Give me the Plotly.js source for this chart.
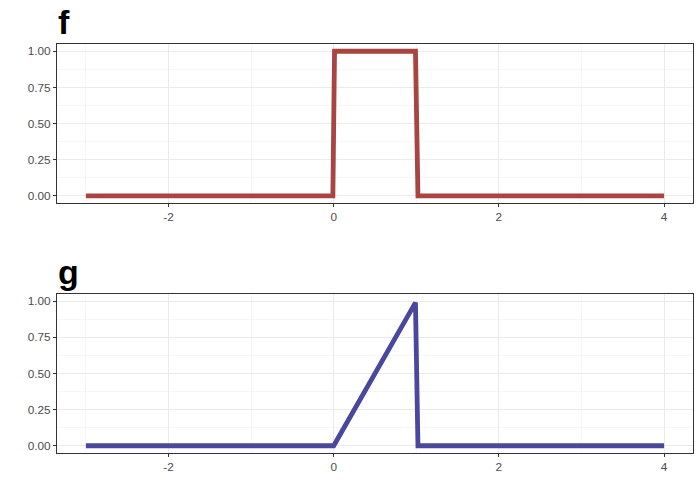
<!DOCTYPE html>
<html>
<head>
<meta charset="utf-8">
<script src="https://cdn.plot.ly/plotly-3.0.1.min.js"></script>
<style>html,body{margin:0;padding:0;background:#fff;}#chart{width:700px;height:500px;}</style>
</head>
<body>
<div id="chart"></div>
<script>
// f: rectangular pulse (sampled, with transition points at the edges)
const fX = [-3, -0.01, 0, 0.01, 0.99, 1.0, 1.01, 1.02, 4];
const fY = [0, 0, 0.5, 1, 1, 0.75, 0.25, 0, 0];
// g: ramp from 0 to 1, then drop
const gX = [-3, 0, 0.99, 1.0, 1.01, 1.02, 4];
const gY = [0, 0, 0.99, 0.75, 0.25, 0, 0];
const panelTitles = ["f", "g"];
const xTickVals = [-2, 0, 2, 4];
const xTickText = ["-2", "0", "2", "4"];
const yTickVals = [0, 0.25, 0.5, 0.75, 1];
const yTickText = ["0.00", "0.25", "0.50", "0.75", "1.00"];

const fColor = "#A84442";
const gColor = "#4B479F";

const traces = [
  {x: fX, y: fY, type: "scatter", mode: "lines", line: {color: fColor, width: 4.8}, xaxis: "x", yaxis: "y", hoverinfo: "skip"},
  {x: gX, y: gY, type: "scatter", mode: "lines", line: {color: gColor, width: 4.8}, xaxis: "x2", yaxis: "y2", hoverinfo: "skip"}
];

const tickFont = {family: "Liberation Sans, Arial, sans-serif", size: 11.8, color: "#4D4D4D"};
function xAxis(anchor) {
  return {
    anchor: anchor, domain: [0, 1], range: [-3.35, 4.35],
    tickmode: "array", tickvals: xTickVals, ticktext: xTickText,
    showgrid: true, gridcolor: "#EBEBEB", gridwidth: 1.1,
    minor: {dtick: 1, tick0: 0, showgrid: true, gridcolor: "#F2F2F2", gridwidth: 0.6, ticks: ""},
    zeroline: false, showline: true, mirror: true, linecolor: "#333333", linewidth: 1,
    ticks: "outside", ticklen: 3, tickcolor: "#333333", tickwidth: 1,
    tickfont: tickFont, fixedrange: true
  };
}
function yAxis(anchor, domain) {
  return {
    anchor: anchor, domain: domain, range: [-0.05, 1.05],
    tickmode: "array", tickvals: yTickVals, ticktext: yTickText,
    showgrid: true, gridcolor: "#EBEBEB", gridwidth: 1.1,
    minor: {dtick: 0.125, tick0: 0.125, showgrid: true, gridcolor: "#F2F2F2", gridwidth: 0.6, ticks: ""},
    zeroline: false, showline: true, mirror: true, linecolor: "#333333", linewidth: 1,
    ticks: "outside", ticklen: 3, tickcolor: "#333333", tickwidth: 1,
    tickfont: tickFont, fixedrange: true
  };
}

const topDomain = [0.6112, 1];
const botDomain = [0, 0.3888];
const titleFont = {family: "Liberation Sans, Arial, sans-serif", size: 34, color: "#000000"};

const layout = {
  width: 700, height: 500,
  margin: {l: 57, r: 7, t: 44, b: 47, pad: 0},
  paper_bgcolor: "#FFFFFF", plot_bgcolor: "#FFFFFF",
  showlegend: false,
  xaxis: xAxis("y"),
  yaxis: yAxis("x", topDomain),
  xaxis2: xAxis("y2"),
  yaxis2: yAxis("x2", botDomain),
  annotations: [
    {text: "<b>" + panelTitles[0] + "</b>", xref: "paper", yref: "paper", x: 0, y: topDomain[1], xanchor: "left", yanchor: "bottom", xshift: -1, yshift: 1, showarrow: false, font: titleFont},
    {text: "<b>" + panelTitles[1] + "</b>", xref: "paper", yref: "paper", x: 0, y: botDomain[1], xanchor: "left", yanchor: "bottom", xshift: -1, yshift: 1, showarrow: false, font: titleFont}
  ]
};

Plotly.newPlot("chart", traces, layout, {staticPlot: true, displayModeBar: false});
</script>
</body>
</html>
